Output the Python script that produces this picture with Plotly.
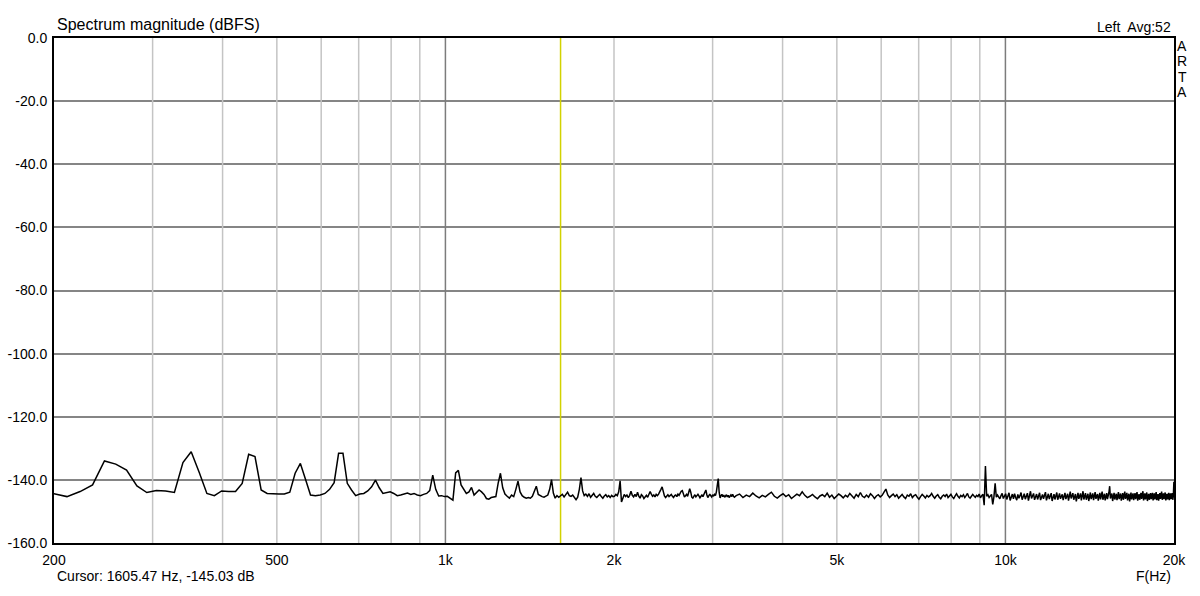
import numpy as np
import plotly.graph_objects as go

# FFT bin width (48 kHz / 4096 points); cursor 1605.47 Hz = bin 137
BIN_HZ = 48000.0 / 4096.0

# ---- spectrum values (dBFS) ----
# bins 17..90 (every bin, ~200 Hz .. 1055 Hz)
low_k0 = 17
low_db = [
    -144.3, -145.3, -143.7, -141.6, -134.0, -135.0, -136.9, -141.9, -144.0, -143.4,
    -143.5, -144.0, -134.5, -131.1, -137.6, -144.3, -145.0, -143.5, -143.7, -143.7,
    -141.1, -131.9, -132.6, -143.2, -144.3, -144.5, -144.5, -144.5, -143.9, -137.9,
    -134.8, -139.8, -144.8, -145.0, -144.8, -144.3, -143.0, -140.9, -131.6, -131.6,
    -141.1, -143.2, -145.0, -144.5, -144.3, -143.5, -142.2, -140.1, -142.5, -144.3,
    -144.0, -143.8, -144.3, -145.0, -144.8, -144.5, -144.2, -144.6, -144.3, -144.8,
    -145.0, -144.6, -144.3, -143.4, -138.5, -143.0, -145.1, -145.0, -145.3, -145.2,
    -145.8, -146.4, -137.8, -137.0,
]
# bins 91..170 (every bin, ~1.07 kHz .. 2 kHz)
mid_k0 = 91
mid_db = [
    -141.6, -143.2, -144.3, -143.8, -142.4, -144.8, -144.0, -143.2, -143.8, -144.6,
    -145.9, -146.1, -145.6, -145.5, -145.3, -141.0, -137.9, -142.5, -144.5, -145.2,
    -145.8, -144.8, -145.3, -143.0, -140.4, -143.8, -145.0, -145.5, -145.8, -145.6,
    -145.8, -145.2, -143.8, -142.0, -144.6, -145.0, -145.3, -145.5, -145.0, -144.8,
    -143.0, -139.9, -144.2, -145.8, -145.0, -145.5, -145.03, -144.6, -145.4, -144.8,
    -143.9, -145.0, -145.2, -144.8, -145.6, -146.3, -145.5, -143.0, -139.3, -143.5,
    -145.0, -144.5, -145.2, -144.4, -145.5, -144.9, -144.3, -145.2, -145.6, -145.0,
    -144.6, -145.3, -145.8, -145.1, -144.7, -145.4, -145.0, -145.6, -144.9, -145.3,
]
# bins 171..280 (every bin, ~2 kHz .. 3.3 kHz)
hi_k0 = 171
hi_db = [
    -145.2, -144.6, -145.0, -143.8, -140.3, -147.0,
    -145.5, -144.6, -145.3, -144.8, -145.6, -144.9, -143.6, -144.9, -145.4,
    -144.6, -145.3, -143.9, -145.2, -145.8, -144.7, -145.1, -145.9, -145.3, -144.9,
    -145.5, -144.4, -143.7, -144.5, -145.2, -144.8, -145.4, -144.6, -145.0, -144.5,
    -143.9, -143.0, -142.2, -143.8, -145.1, -145.6, -145.0, -144.7, -145.3, -145.0,
    -144.6, -145.2, -145.6, -145.0, -144.8, -145.3, -144.5, -144.9, -144.2, -143.6,
    -143.4, -144.6, -145.4, -145.0, -144.6, -145.2, -144.1, -142.8, -143.9, -145.5,
    -145.8, -145.2, -144.7, -145.4, -145.0, -144.6, -145.1, -145.7, -145.2, -144.8,
    -145.3, -144.4, -143.9, -143.2, -144.7, -145.6, -145.1, -144.5, -145.0, -145.4,
    -144.7, -145.2, -144.6, -145.0, -143.8, -142.0, -139.6, -144.0, -145.7, -145.0,
    -144.6, -145.3, -144.8, -145.5, -145.0, -144.7, -145.4, -144.9, -145.6, -145.1,
    -144.8, -145.3, -144.6, -145.2, -145.5,
]
# bins 282..1706, every 4th bin (~3.3 kHz .. 20 kHz)
top_k0 = 282
top_step = 4
top_db = [
    -145.0, -144.5, -145.6, -144.8, -145.3, -144.2, -145.1, -145.7, -144.9, -145.4,
    -144.6, -143.9, -145.2, -145.8, -145.0, -144.4, -145.3, -144.7, -145.9, -145.1,
    -144.5, -145.0, -143.8, -144.9, -145.6, -145.2, -144.6, -145.4, -146.0, -145.1,
    -144.7, -145.3, -144.2, -145.5, -144.8, -145.9, -145.2, -144.5, -145.0, -145.7,
    -144.9, -145.4, -144.3, -145.1, -145.8, -144.6, -145.3, -144.0, -145.2, -145.6,
    -144.8, -145.5, -144.4, -145.0, -145.9, -145.1, -144.7, -145.4, -144.9, -143.9,
    -142.9, -144.8, -145.6, -145.0, -144.5, -145.3, -144.7, -145.8, -145.2, -144.6,
    -145.4, -145.9, -144.8, -145.2, -144.4, -145.6, -145.0, -144.7, -145.5, -146.1,
    -145.3, -144.6, -145.1, -145.7, -144.9, -145.4, -145.0, -144.3, -145.2, -145.8,
    -145.1, -144.7, -145.5, -146.0, -145.2, -144.8, -145.3, -144.5, -145.6, -145.0,
    -144.6, -145.4, -145.9, -145.1, -144.4, -145.2, -145.7, -144.9, -145.3, -144.7,
    -145.6, -145.0, -144.3, -145.4, -145.8, -145.2, -144.6, -145.1, -145.5, -144.9,
    -145.3, -144.5, -145.7, -145.0, -144.6, -148.0, -135.6, -145.2, -144.7, -145.6,
    -145.1, -144.6, -147.8, -145.3, -141.1, -145.5, -144.8, -145.4, -146.0, -145.0,
    -144.3, -145.9, -145.1, -144.4, -146.2, -145.3, -144.1, -146.5, -145.2, -144.5,
    -146.0, -144.4, -145.6, -146.4, -144.6, -145.8, -145.0, -144.0, -146.3, -145.3,
    -144.4, -146.1, -145.1, -144.2, -146.6, -145.2, -143.6, -145.9, -145.0, -144.3,
    -146.3, -145.4, -144.5, -146.2, -145.2, -144.1, -146.4, -145.5, -144.6, -146.0,
    -145.0, -143.9, -146.5, -145.3, -144.4, -146.1, -145.1, -144.2, -146.7, -145.4,
    -144.5, -146.2, -145.0, -144.0, -146.3, -145.5, -144.3, -146.0, -145.2, -144.6,
    -146.4, -145.3, -144.1, -146.1, -145.0, -144.4, -146.6, -145.4, -143.7, -145.9,
    -145.1, -144.2, -146.3, -145.2, -144.5, -146.8, -145.3, -144.1, -146.0, -145.0,
    -144.3, -146.5, -145.4, -143.6, -146.2, -145.1, -144.2, -146.3, -145.3, -144.4,
    -146.7, -145.2, -144.0, -146.1, -145.0, -144.3, -146.4, -145.5, -143.9, -146.0,
    -145.1, -144.5, -146.6, -145.2, -144.1, -146.2, -145.0, -143.7, -146.3, -145.4,
    -144.4, -146.5, -145.3, -144.2, -146.1, -145.1, -144.0, -142.0, -145.9, -145.0,
    -144.3, -146.7, -145.2, -144.1, -146.2, -145.0, -144.4, -146.4, -145.3, -143.9,
    -146.1, -145.1, -144.3, -146.6, -145.4, -144.2, -146.3, -145.2, -143.7, -146.0,
    -145.0, -144.1, -146.5, -145.3, -144.4, -146.8, -145.1, -144.0, -146.2, -145.2,
    -144.3, -146.4, -145.4, -144.2, -146.1, -145.0, -143.9, -146.6, -145.3, -144.5,
    -146.3, -145.2, -144.1, -146.0, -145.1, -143.6, -146.5, -145.4, -144.3, -146.2,
    -145.0, -144.0, -146.7, -145.3, -144.4, -146.3, -145.2, -144.2, -146.1, -145.1,
    -144.1, -146.5, -145.4, -144.3, -146.2, -145.0, -143.9, -146.4, -145.3, -144.5,
    -146.6, -145.1, -144.2, -146.0, -145.0, -143.7, -146.3, -145.4, -144.3, -146.1,
    -145.2, -144.0, -146.5, -145.1, -144.4, -146.2, -145.0, -144.1, -146.4, -145.3,
    -144.3, -146.1, -145.1, -144.2, -146.3, -145.2, -140.6,
]

# axis / annotation texts
x_tick_hz = [200, 500, 1000, 2000, 5000, 10000, 20000]
x_tick_text = ["200", "500", "1k", "2k", "5k", "10k", "20k"]
y_tick_db = [0, -20, -40, -60, -80, -100, -120, -140, -160]
minor_grid_hz = [300, 400, 500, 600, 700, 800, 900,
                 2000, 3000, 4000, 5000, 6000, 7000, 8000, 9000]
major_grid_hz = [1000, 10000]
cursor_hz = 1605.47
cursor_db = -145.03
title_text = "Spectrum magnitude (dBFS)"
channel_text = "Left&nbsp; Avg:52"
brand_letters = ["A", "R", "T", "A"]


def bin_freqs(k0, n, step=1):
    return (k0 + step * np.arange(n)) * BIN_HZ


freq = np.concatenate([
    bin_freqs(low_k0, len(low_db)),
    bin_freqs(mid_k0, len(mid_db)),
    bin_freqs(hi_k0, len(hi_db)),
    bin_freqs(top_k0, len(top_db), top_step),
])
level = np.concatenate([low_db, mid_db, hi_db, top_db])


def vlines(xs, y0=0, y1=-160):
    gx, gy = [], []
    for x in xs:
        gx += [x, x, None]
        gy += [y0, y1, None]
    return gx, gy


FONT = "Liberation Sans, Arial, sans-serif"

fig = go.Figure()
gx, gy = vlines(minor_grid_hz)
fig.add_trace(go.Scatter(x=gx, y=gy, mode="lines",
                         line=dict(color="#c4c4c4", width=1.5),
                         hoverinfo="skip", showlegend=False))
gx, gy = vlines(major_grid_hz)
fig.add_trace(go.Scatter(x=gx, y=gy, mode="lines",
                         line=dict(color="#7c7c7c", width=1.5),
                         hoverinfo="skip", showlegend=False))
gx, gy = vlines([cursor_hz])
fig.add_trace(go.Scatter(x=gx, y=gy, mode="lines",
                         line=dict(color="#d2d200", width=1.5),
                         hoverinfo="skip", showlegend=False))
fig.add_trace(go.Scatter(x=freq, y=level, mode="lines",
                         line=dict(color="#000000", width=1.5),
                         hoverinfo="skip", showlegend=False))

L, R, T, B = 54, 26, 38, 53
W, H = 1200, 596
pw, ph = W - L - R, H - T - B


def px(x):
    return (x - L) / pw


def py(y):
    return (H - B - y) / ph


ann = [
    dict(text=title_text, x=px(55), y=py(25), xanchor="left", yanchor="middle",
         font=dict(size=16, color="#000")),
    dict(text=channel_text, x=px(1173), y=py(27), xanchor="right", yanchor="middle",
         font=dict(size=14, color="#000")),
    dict(text=f"Cursor: {cursor_hz:.2f} Hz, {cursor_db:.2f} dB", x=px(55), y=py(576),
         xanchor="left", yanchor="middle", font=dict(size=14, color="#000")),
    dict(text="F(Hz)", x=px(1173), y=py(576), xanchor="right", yanchor="middle",
         font=dict(size=14, color="#000")),
]
for i, ch in enumerate(brand_letters):
    ann.append(dict(text=ch, x=px(1182), y=py(46 + i * 15.3), xanchor="center",
                    yanchor="middle", font=dict(size=14, color="#000")))
for a in ann:
    a.update(xref="paper", yref="paper", showarrow=False)

fig.update_layout(
    width=W, height=H,
    margin=dict(l=L, r=R, t=T, b=B, pad=0),
    paper_bgcolor="white", plot_bgcolor="white",
    font=dict(family=FONT, size=14, color="#000"),
    hovermode=False,
    annotations=ann,
    xaxis=dict(type="log", range=[np.log10(200), np.log10(20000)],
               tickvals=x_tick_hz, ticktext=x_tick_text, ticks="",
               showgrid=False, zeroline=False, automargin=False,
               showline=True, mirror=True, linecolor="#000", linewidth=2,
               tickfont=dict(size=14), ticklabelstandoff=3),
    yaxis=dict(range=[-160, 0], tickvals=y_tick_db,
               ticktext=[f"{v:.1f}" for v in y_tick_db], ticks="",
               showgrid=True, gridcolor="#858585", gridwidth=1.5, zeroline=False,
               automargin=False,
               showline=True, mirror=True, linecolor="#000", linewidth=2,
               tickfont=dict(size=14), ticklabelstandoff=2),
)

fig.write_html("out.html",
               config={"displayModeBar": False},
               post_script="document.body.style.margin='0px';document.body.style.overflow='hidden';")
